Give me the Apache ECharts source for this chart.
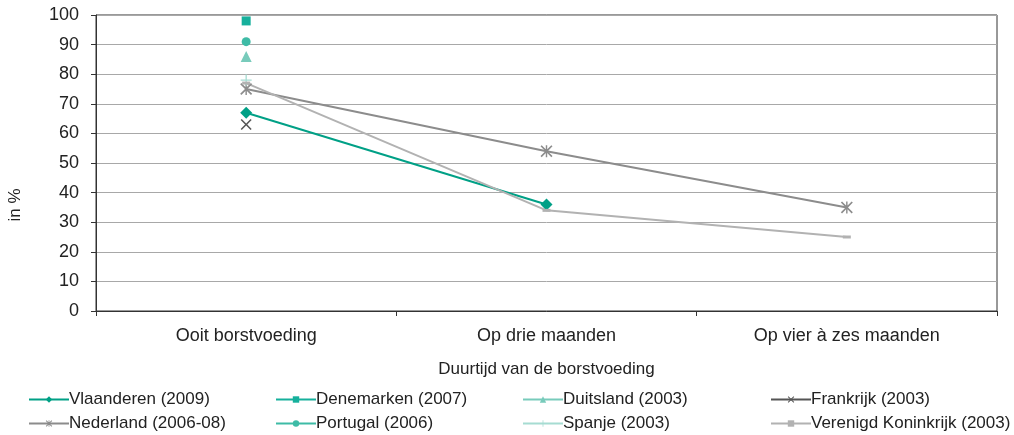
<!DOCTYPE html>
<html>
<head>
<meta charset="utf-8">
<script src="https://cdn.jsdelivr.net/npm/echarts@6/dist/echarts.min.js"></script>
<style>
  html, body { margin: 0; padding: 0; background: #fff; }
  #chart { width: 1014px; height: 435px; }
</style>
</head>
<body>
<div id="chart"></div>
<script>
// Duration of breastfeeding per country (% of children)
const categories = ['Ooit borstvoeding', 'Op drie maanden', 'Op vier à zes maanden'];
const yTicks = { min: 0, max: 100, interval: 10 };

const vlaanderen = [67, 36, null];
const denemarken = [98, null, null];
const duitsland = [86, null, null];
const frankrijk = [63, null, null];
const nederland = [75, 54, 35];
const portugal = [91, null, null];
const spanje = [78, null, null];
const verenigdKoninkrijk = [77, 34, 25];

const FONT = '"Liberation Sans", Arial, Helvetica, sans-serif';

// symbol outlines built as filled polygons
const SYM_X = 'path://M0,1L1,0L5,4L9,0L10,1L6,5L10,9L9,10L5,6L1,10L0,9L4,5Z';
const SYM_PLUS = 'path://M4.4,0H5.6V4.4H10V5.6H5.6V10H4.4V5.6H0V4.4H4.4Z';
const SYM_STAR = 'path://M0,1L1,0L5,4L9,0L10,1L6,5L10,9L9,10L5,6L1,10L0,9L4,5Z M4.4,0H5.6V10H4.4Z';

function line(name, data, color, symbol, size) {
  return {
    name, type: 'line', data,
    symbol, symbolSize: size,
    connectNulls: false,
    lineStyle: { color, width: 2 },
    itemStyle: { color },
    emphasis: { disabled: true },
    z: 3
  };
}

const series = [
  line('Vlaanderen (2009)', vlaanderen, '#00A086', 'diamond', 12),
  line('Denemarken (2007)', denemarken, '#16B09C', 'rect', 9),
  line('Duitsland (2003)', duitsland, '#78CBBB', 'triangle', 11),
  line('Frankrijk (2003)', frankrijk, '#555555', SYM_X, 11),
  line('Nederland (2006-08)', nederland, '#8C8C8C', SYM_STAR, 12),
  line('Portugal (2006)', portugal, '#3EBBA6', 'circle', 9),
  line('Spanje (2003)', spanje, '#A6DCD2', SYM_PLUS, 11),
  line('Verenigd Koninkrijk (2003)', verenigdKoninkrijk, '#B2B2B2', 'rect', [8, 3])
];

function legendColumn(left, names) {
  return {
    orient: 'vertical', left, top: 391, height: 44, padding: 0,
    itemWidth: 40, itemHeight: 8, itemGap: 7,
    data: names,
    selectedMode: false,
    textStyle: { fontFamily: FONT, fontSize: 17, color: '#222', padding: [0, 0, 0, -5] }
  };
}

const chart = echarts.init(document.getElementById('chart'));
chart.setOption({
  animation: false,
  backgroundColor: '#fff',
  textStyle: { fontFamily: FONT },
  grid: { left: 96, right: 17, top: 15, bottom: 124, show: true, borderColor: '#333', borderWidth: 1 },
  legend: [
    legendColumn(28, ['Vlaanderen (2009)', 'Nederland (2006-08)']),
    legendColumn(275, ['Denemarken (2007)', 'Portugal (2006)']),
    legendColumn(522, ['Duitsland (2003)', 'Spanje (2003)']),
    legendColumn(770, ['Frankrijk (2003)', 'Verenigd Koninkrijk (2003)'])
  ],
  graphic: [{
    type: 'text', x: 15, y: 205, rotation: Math.PI / 2,
    style: {
      text: 'in %', fontFamily: FONT, fontSize: 17, fill: '#222',
      align: 'center', verticalAlign: 'middle'
    }
  }],
  xAxis: {
    type: 'category', data: categories, boundaryGap: true,
    axisLine: { lineStyle: { color: '#333', width: 1 } },
    axisTick: { show: true, length: 5, lineStyle: { color: '#333' } },
    axisLabel: { fontFamily: FONT, fontSize: 18, color: '#222', margin: 16 },
    name: 'Duurtijd van de borstvoeding', nameLocation: 'middle', nameGap: 50,
    nameTextStyle: { fontFamily: FONT, fontSize: 17, color: '#222' }
  },
  yAxis: {
    type: 'value', min: yTicks.min, max: yTicks.max, interval: yTicks.interval,
    axisLine: { show: true, lineStyle: { color: '#333', width: 1 } },
    axisTick: { show: true, length: 5, lineStyle: { color: '#333' } },
    splitLine: { lineStyle: { color: '#A8A8A8', width: 1 } },
    axisLabel: { fontFamily: FONT, fontSize: 18, color: '#222', margin: 17 }
  },
  series
});
</script>
</body>
</html>
